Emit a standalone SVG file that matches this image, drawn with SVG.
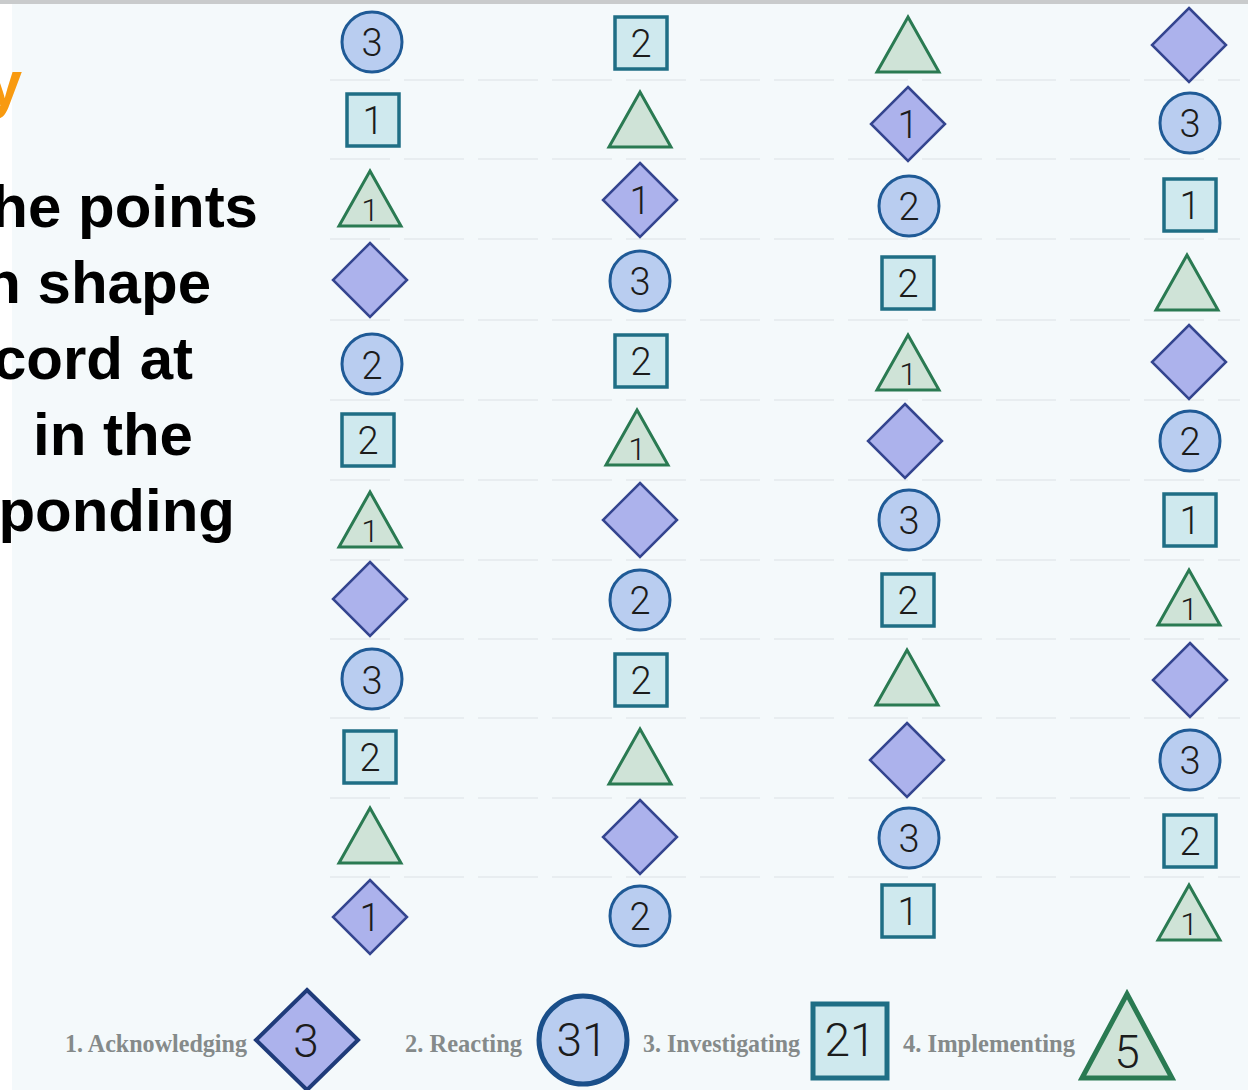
<svg xmlns="http://www.w3.org/2000/svg" xmlns:xlink="http://www.w3.org/1999/xlink" width="1248" height="1090" viewBox="0 0 1248 1090">
<style>
.bg{fill:#f4f9fb}
.circ{fill:#b9cdf0;stroke:#1f5a96;stroke-width:3}
.sq{fill:#cfe9ee;stroke:#1f6e85;stroke-width:3.5}
.tri{fill:#cfe3d7;stroke:#2a7a52;stroke-width:3;stroke-linejoin:miter}
.dia{fill:#acb2ec;stroke:#34458f;stroke-width:2.5}
.d{font-family:Roboto,"Liberation Sans",Arial,sans-serif;font-weight:300;font-size:38px;fill:#1c1c1c;text-anchor:middle}
.dt{font-family:Roboto,"Liberation Sans",Arial,sans-serif;font-weight:300;font-size:32px;fill:#1c1c1c;text-anchor:middle}
.head{font-family:"Liberation Sans",Arial,sans-serif;font-weight:bold;font-size:60px;fill:#000;text-anchor:end}
.title{font-family:"Liberation Sans",Arial,sans-serif;font-weight:bold;font-size:64px;fill:#f89a10;text-anchor:end}
.leg{font-family:"Liberation Serif","Times New Roman",serif;font-weight:bold;font-size:25px;fill:#858a8a}
.ln{stroke:#e8edf0;stroke-width:2;stroke-dasharray:60 14}
.ld{font-family:Roboto,"Liberation Sans",Arial,sans-serif;font-weight:300;font-size:46px;fill:#1c1c1c;text-anchor:middle}
</style>
<defs>
<circle id="C" cx="0" cy="0" r="30" class="circ"/>
<rect id="S" x="-26" y="-26" width="52" height="52" class="sq"/>
<polygon id="T" points="0,-28 31,27 -31,27" class="tri"/>
<polygon id="D" points="0,-37 37,0 0,37 -37,0" class="dia"/>
</defs>
<rect class="bg" x="0" y="0" width="1248" height="1090"/>
<rect x="0" y="0" width="12" height="1090" fill="#ffffff"/>
<rect x="0" y="0" width="1248" height="4" fill="#c9cbcc"/>
<g id="rules">
<line class="ln" x1="330" y1="80" x2="1240" y2="80"/>
<line class="ln" x1="330" y1="159" x2="1240" y2="159"/>
<line class="ln" x1="330" y1="239" x2="1240" y2="239"/>
<line class="ln" x1="330" y1="320" x2="1240" y2="320"/>
<line class="ln" x1="330" y1="400" x2="1240" y2="400"/>
<line class="ln" x1="330" y1="480" x2="1240" y2="480"/>
<line class="ln" x1="330" y1="560" x2="1240" y2="560"/>
<line class="ln" x1="330" y1="639" x2="1240" y2="639"/>
<line class="ln" x1="330" y1="718" x2="1240" y2="718"/>
<line class="ln" x1="330" y1="798" x2="1240" y2="798"/>
<line class="ln" x1="330" y1="877" x2="1240" y2="877"/>
</g>
<g id="heading">
<text class="title" x="22" y="106">y</text>
<text class="head" x="258" y="227">he points</text>
<text class="head" x="211" y="303">n shape</text>
<text class="head" x="193" y="379">cord at</text>
<text class="head" x="193" y="455">in the</text>
<text class="head" x="235" y="531">ponding</text>
</g>
<g id="connectors"/>
<!-- column 1 -->
<g id="c1r1" transform="translate(372,42)"><use href="#C"/><text class="d" y="14">3</text></g>
<g id="c1r2" transform="translate(373,120)"><use href="#S"/><text class="d" y="14">1</text></g>
<g id="c1r3" transform="translate(370,199)"><use href="#T"/><text class="dt" y="22">1</text></g>
<g id="c1r4" transform="translate(370,280)"><use href="#D"/></g>
<g id="c1r5" transform="translate(372,364)"><use href="#C"/><text class="d" y="15">2</text></g>
<g id="c1r6" transform="translate(368,440)"><use href="#S"/><text class="d" y="14">2</text></g>
<g id="c1r7" transform="translate(370,520)"><use href="#T"/><text class="dt" y="22">1</text></g>
<g id="c1r8" transform="translate(370,599)"><use href="#D"/></g>
<g id="c1r9" transform="translate(372,679)"><use href="#C"/><text class="d" y="15">3</text></g>
<g id="c1r10" transform="translate(370,757)"><use href="#S"/><text class="d" y="14">2</text></g>
<g id="c1r11" transform="translate(370,836)"><use href="#T"/></g>
<g id="c1r12" transform="translate(370,917)"><use href="#D"/><text class="d" y="14">1</text></g>
<!-- column 2 -->
<g id="c2r1" transform="translate(641,43)"><use href="#S"/><text class="d" y="14">2</text></g>
<g id="c2r2" transform="translate(640,120)"><use href="#T"/></g>
<g id="c2r3" transform="translate(640,200)"><use href="#D"/><text class="d" y="14">1</text></g>
<g id="c2r4" transform="translate(640,281)"><use href="#C"/><text class="d" y="14">3</text></g>
<g id="c2r5" transform="translate(641,361)"><use href="#S"/><text class="d" y="14">2</text></g>
<g id="c2r6" transform="translate(637,438)"><use href="#T"/><text class="dt" y="22">1</text></g>
<g id="c2r7" transform="translate(640,520)"><use href="#D"/></g>
<g id="c2r8" transform="translate(640,600)"><use href="#C"/><text class="d" y="14">2</text></g>
<g id="c2r9" transform="translate(641,680)"><use href="#S"/><text class="d" y="14">2</text></g>
<g id="c2r10" transform="translate(640,757)"><use href="#T"/></g>
<g id="c2r11" transform="translate(640,837)"><use href="#D"/></g>
<g id="c2r12" transform="translate(640,916)"><use href="#C"/><text class="d" y="14">2</text></g>
<!-- column 3 -->
<g id="c3r1" transform="translate(908,45)"><use href="#T"/></g>
<g id="c3r2" transform="translate(908,124)"><use href="#D"/><text class="d" y="14">1</text></g>
<g id="c3r3" transform="translate(909,206)"><use href="#C"/><text class="d" y="14">2</text></g>
<g id="c3r4" transform="translate(908,283)"><use href="#S"/><text class="d" y="14">2</text></g>
<g id="c3r5" transform="translate(908,363)"><use href="#T"/><text class="dt" y="22">1</text></g>
<g id="c3r6" transform="translate(905,441)"><use href="#D"/></g>
<g id="c3r7" transform="translate(909,520)"><use href="#C"/><text class="d" y="14">3</text></g>
<g id="c3r8" transform="translate(908,600)"><use href="#S"/><text class="d" y="14">2</text></g>
<g id="c3r9" transform="translate(907,678)"><use href="#T"/></g>
<g id="c3r10" transform="translate(907,760)"><use href="#D"/></g>
<g id="c3r11" transform="translate(909,838)"><use href="#C"/><text class="d" y="14">3</text></g>
<g id="c3r12" transform="translate(908,911)"><use href="#S"/><text class="d" y="14">1</text></g>
<!-- column 4 -->
<g id="c4r1" transform="translate(1189,45)"><use href="#D"/></g>
<g id="c4r2" transform="translate(1190,123)"><use href="#C"/><text class="d" y="14">3</text></g>
<g id="c4r3" transform="translate(1190,205)"><use href="#S"/><text class="d" y="14">1</text></g>
<g id="c4r4" transform="translate(1187,283)"><use href="#T"/></g>
<g id="c4r5" transform="translate(1189,362)"><use href="#D"/></g>
<g id="c4r6" transform="translate(1190,441)"><use href="#C"/><text class="d" y="14">2</text></g>
<g id="c4r7" transform="translate(1190,520)"><use href="#S"/><text class="d" y="14">1</text></g>
<g id="c4r8" transform="translate(1189,598)"><use href="#T"/><text class="dt" y="22">1</text></g>
<g id="c4r9" transform="translate(1190,680)"><use href="#D"/></g>
<g id="c4r10" transform="translate(1190,760)"><use href="#C"/><text class="d" y="14">3</text></g>
<g id="c4r11" transform="translate(1190,841)"><use href="#S"/><text class="d" y="14">2</text></g>
<g id="c4r12" transform="translate(1189,913)"><use href="#T"/><text class="dt" y="22">1</text></g>
<!-- legend -->
<g id="legend1">
<text class="leg" x="65" y="1052" textLength="182" lengthAdjust="spacingAndGlyphs">1. Acknowledging</text>
<polygon points="307,990 358,1040 307,1090 256,1040" fill="#acb2ec" stroke="#1f3b7a" stroke-width="4"/>
<text class="ld" x="306" y="1057">3</text>
</g>
<g id="legend2">
<text class="leg" x="405" y="1052" textLength="117" lengthAdjust="spacingAndGlyphs">2. Reacting</text>
<circle cx="583" cy="1040" r="44" fill="#b9cdf0" stroke="#1a4f8a" stroke-width="5"/>
<text class="ld" x="582" y="1056">31</text>
</g>
<g id="legend3">
<text class="leg" x="643" y="1052" textLength="157" lengthAdjust="spacingAndGlyphs">3. Investigating</text>
<rect x="813" y="1004" width="74" height="74" fill="#cfe9ee" stroke="#1f6e85" stroke-width="5"/>
<text class="ld" x="850" y="1056">21</text>
</g>
<g id="legend4">
<text class="leg" x="903" y="1052" textLength="172" lengthAdjust="spacingAndGlyphs">4. Implementing</text>
<polygon points="1127,994 1172,1078 1082,1078" fill="#cfe3d7" stroke="#2a7a52" stroke-width="5"/>
<text class="ld" x="1127" y="1068">5</text>
</g>
</svg>
